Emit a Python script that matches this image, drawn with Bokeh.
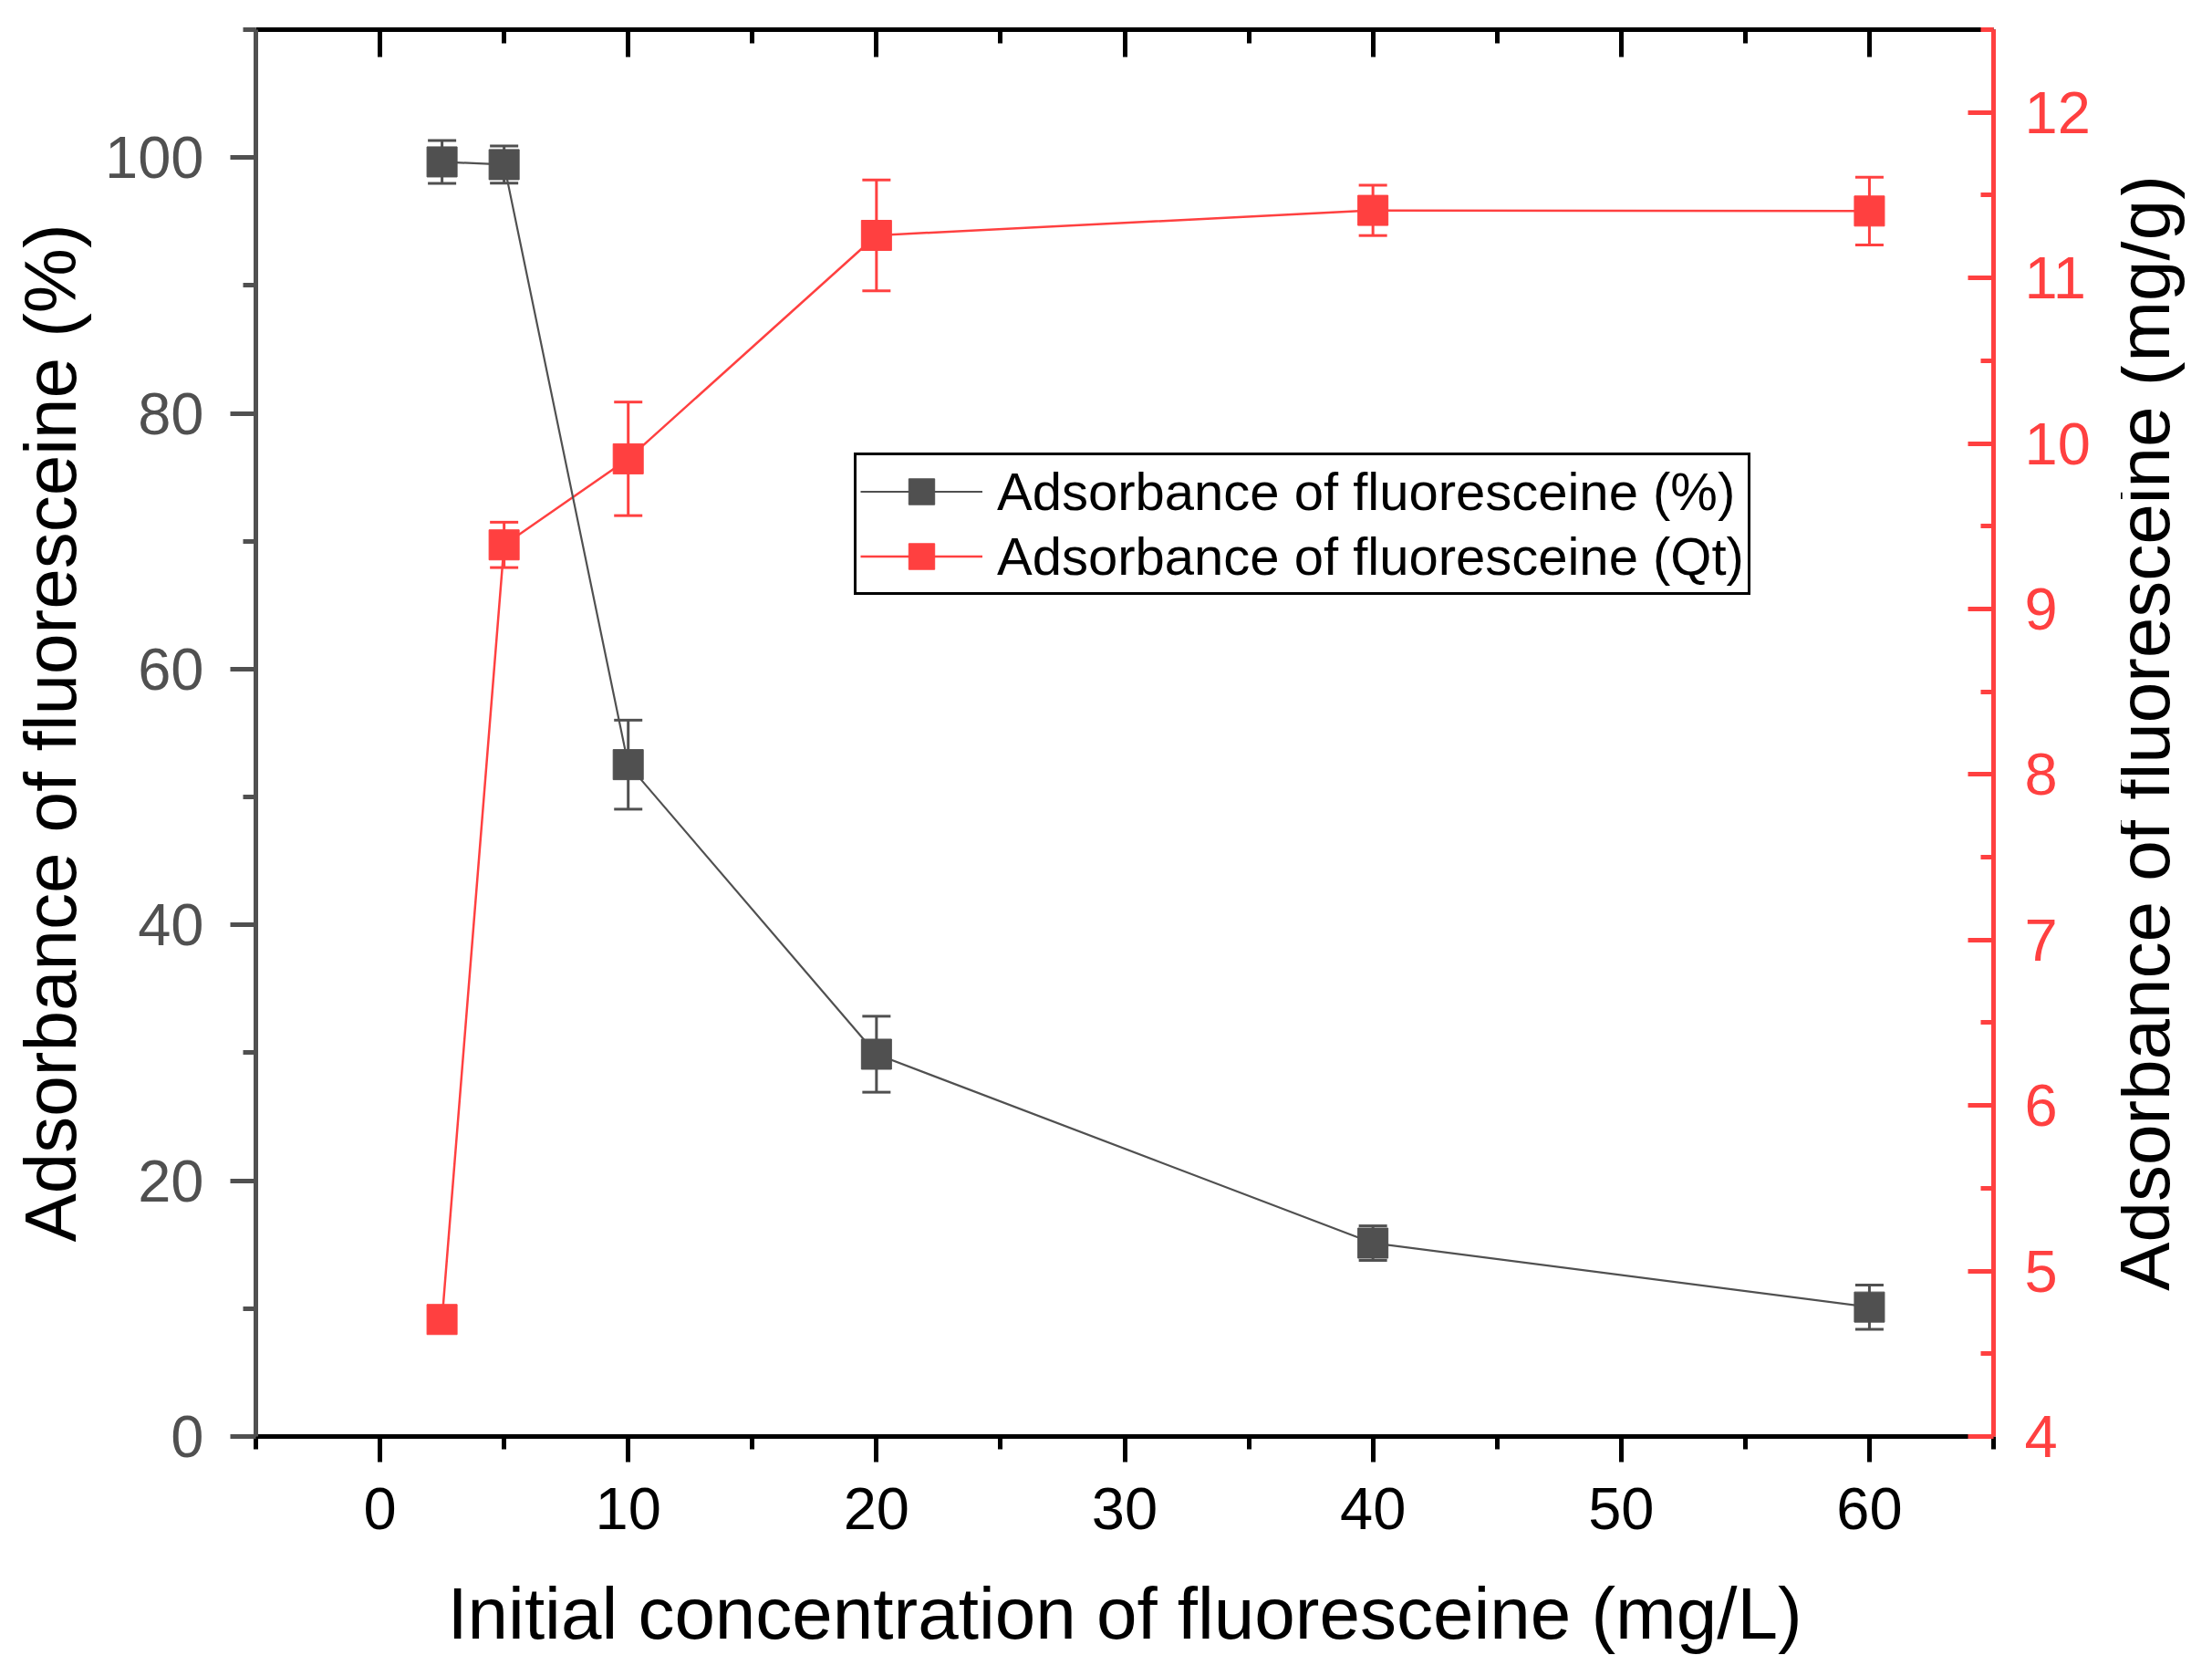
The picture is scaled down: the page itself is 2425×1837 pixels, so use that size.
from bokeh.plotting import figure
from bokeh.layouts import row
from bokeh.models import (Range1d, LinearAxis, FixedTicker, ColumnDataSource, Whisker,
                          TeeHead, Legend, LegendItem, CustomJSTickFormatter)
from bokeh.embed import file_html
from bokeh.resources import INLINE

# ---- data ----
conc = [2.5, 5, 10, 20, 40, 60]
ads_pct = [99.66, 99.45, 52.53, 29.89, 15.12, 10.12]
ads_pct_err = [1.68, 1.45, 3.48, 2.97, 1.35, 1.73]
ads_qt = [4.707, 9.387, 9.907, 11.257, 11.408, 11.404]
ads_qt_err = [0.0, 0.137, 0.343, 0.335, 0.152, 0.205]

x_major = [0, 10, 20, 30, 40, 50, 60]
x_minor = [-5, 5, 15, 25, 35, 45, 55, 65]
yl_major = [0, 20, 40, 60, 80, 100]
yl_minor = [10, 30, 50, 70, 90, 110]
yr_major = [4, 5, 6, 7, 8, 9, 10, 11, 12]
yr_minor = [4.5, 5.5, 6.5, 7.5, 8.5, 9.5, 10.5, 11.5, 12.5]

label_pct = "Adsorbance of fluoresceine (%)"
label_qt = "Adsorbance of fluoresceine (Qt)"
x_title = "Initial concentration of fluoresceine (mg/L)"
yl_title = "Adsorbance of fluoresceine (%)"
yr_title = "Adsorbance of fluoresceine (mg/g)"

DARK = "#505050"
RED = "#FF4040"
FONT = "Liberation Sans"

p = figure(width=2325, height=1837, output_backend="svg", toolbar_location=None,
           x_range=Range1d(-5, 65), y_range=Range1d(0, 110),
           min_border_left=280, min_border_right=140, min_border_top=32, min_border_bottom=263)
p.extra_y_ranges = {"right": Range1d(4, 12.5)}
p.outline_line_color = None
p.grid.visible = False
p.background_fill_color = "white"
p.border_fill_color = "white"

def style_axis(ax, color, label_color, tick_in, tick_out, minor_in, minor_out):
    ax.axis_line_color = color
    ax.axis_line_width = 5
    ax.major_tick_line_color = color
    ax.major_tick_line_width = 5
    ax.minor_tick_line_color = color
    ax.minor_tick_line_width = 5
    ax.major_tick_in = tick_in
    ax.major_tick_out = tick_out
    ax.minor_tick_in = minor_in
    ax.minor_tick_out = minor_out
    ax.major_label_text_color = label_color
    ax.major_label_text_font = FONT
    ax.major_label_text_font_size = "65px"
    ax.axis_label_text_font = FONT
    ax.axis_label_text_font_size = "80px"
    ax.axis_label_text_font_style = "normal"
    ax.axis_label_text_color = "black"

# bottom axis
xb = p.xaxis[0]
xb.ticker = FixedTicker(ticks=x_major, minor_ticks=x_minor)
style_axis(xb, "black", "black", 0, 28, 0, 14)
xb.axis_label = x_title
xb.major_label_standoff = 28
xb.axis_label_standoff = 45

# left axis
yl = p.yaxis[0]
yl.ticker = FixedTicker(ticks=yl_major, minor_ticks=yl_minor)
style_axis(yl, DARK, DARK, 0, 28, 0, 14)
yl.axis_label = yl_title
yl.major_label_standoff = 29
yl.axis_label_standoff = 12

# top axis (ticks only, no labels)
xt = LinearAxis(ticker=FixedTicker(ticks=x_major, minor_ticks=x_minor),
                formatter=CustomJSTickFormatter(code="return ''"))
style_axis(xt, "black", "black", 30, 0, 15, 0)
xt.major_label_text_color = None
xt.major_label_text_font_size = "1px"
xt.major_label_standoff = 0
p.add_layout(xt, "above")

# right axis (title drawn in the narrow companion panel, reading bottom-to-top)
yr = LinearAxis(y_range_name="right", ticker=FixedTicker(ticks=yr_major, minor_ticks=yr_minor))
style_axis(yr, RED, RED, 28, 0, 14, 0)
yr.major_label_standoff = 34
p.add_layout(yr, "right")

# ---- red series (right axis) ----
src_qt = ColumnDataSource(dict(x=conc, y=ads_qt,
                               lo=[v - e for v, e in zip(ads_qt, ads_qt_err)],
                               hi=[v + e for v, e in zip(ads_qt, ads_qt_err)]))
w_qt = Whisker(source=src_qt, base="x", lower="lo", upper="hi", dimension="height",
               line_color=RED, line_width=3, y_range_name="right",
               upper_head=TeeHead(size=31, line_color=RED, line_width=3),
               lower_head=TeeHead(size=31, line_color=RED, line_width=3))
p.add_layout(w_qt)
l_qt = p.line("x", "y", source=src_qt, y_range_name="right", line_color=RED, line_width=2.5)
s_qt = p.scatter("x", "y", source=src_qt, y_range_name="right", marker="square", size=33,
                 fill_color=RED, line_color=RED, line_width=1)

# ---- dark series (left axis) ----
src_pct = ColumnDataSource(dict(x=conc, y=ads_pct,
                                lo=[v - e for v, e in zip(ads_pct, ads_pct_err)],
                                hi=[v + e for v, e in zip(ads_pct, ads_pct_err)]))
w_pct = Whisker(source=src_pct, base="x", lower="lo", upper="hi", dimension="height",
                line_color=DARK, line_width=3,
                upper_head=TeeHead(size=31, line_color=DARK, line_width=3),
                lower_head=TeeHead(size=31, line_color=DARK, line_width=3))
p.add_layout(w_pct)
l_pct = p.line("x", "y", source=src_pct, line_color=DARK, line_width=2.2)
s_pct = p.scatter("x", "y", source=src_pct, marker="square", size=33,
                  fill_color=DARK, line_color=DARK, line_width=1)

# ---- legend ----
legend = Legend(items=[LegendItem(label=label_pct, renderers=[l_pct, s_pct]),
                       LegendItem(label=label_qt, renderers=[l_qt, s_qt])],
                location=(656, 922))
legend.label_text_font = FONT
legend.label_text_font_size = "58px"
legend.label_text_color = "black"
legend.glyph_width = 134
legend.glyph_height = 71
legend.label_height = 71
legend.label_standoff = 16
legend.spacing = 0
legend.padding = 4
legend.margin = 0
legend.border_line_color = "black"
legend.border_line_alpha = 1.0
legend.border_line_width = 3
legend.background_fill_alpha = 1.0
p.add_layout(legend, "center")

# ---- companion panel carrying the right-hand axis title ----
p2 = figure(width=100, height=1837, output_backend="svg", toolbar_location=None,
            x_range=Range1d(0, 1), y_range=Range1d(0, 1),
            min_border_left=99, min_border_right=1, min_border_top=32, min_border_bottom=263)
p2.outline_line_color = None
p2.grid.visible = False
p2.xaxis.visible = False
p2.background_fill_color = "white"
p2.border_fill_color = "white"
ya = p2.yaxis[0]
ya.ticker = FixedTicker(ticks=[], minor_ticks=[])
ya.axis_line_color = None
ya.major_tick_line_color = None
ya.minor_tick_line_color = None
ya.major_tick_out = 0
ya.major_tick_in = 0
ya.minor_tick_out = 0
ya.minor_tick_in = 0
ya.major_label_standoff = 0
ya.major_label_text_font_size = "1px"
ya.axis_label = yr_title
ya.axis_label_text_font = FONT
ya.axis_label_text_font_size = "80px"
ya.axis_label_text_font_style = "normal"
ya.axis_label_text_color = "black"
ya.axis_label_standoff = 30

layout = row(p, p2, spacing=0)
open("out.html", "w").write(file_html(layout, INLINE))
